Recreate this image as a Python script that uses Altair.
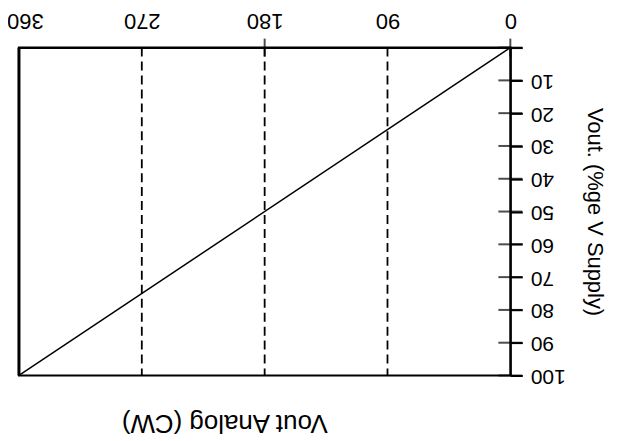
import altair as alt
import pandas as pd

# data
angle_deg = [0, 360]
vout_pct = [0, 100]
dashed_angles = [90, 180, 270]
border_angle = [360]
x_ticks = [0, 90, 180, 270, 360]
y_ticks = [0, 10, 20, 30, 40, 50, 60, 70, 80, 90, 100]
x_cross_ticks = [0, 180]

FONT = "Liberation Sans"

line_df = pd.DataFrame({"angle": angle_deg, "vout": vout_pct})
dash_df = pd.DataFrame({"angle": dashed_angles})
border_df = pd.DataFrame({"angle": border_angle})
ytick_df = pd.DataFrame({"vout": y_ticks, "angle": [0] * len(y_ticks)})
xtick_df = pd.DataFrame({"angle": x_cross_ticks, "vout": [0] * len(x_cross_ticks)})

xscale = alt.Scale(domain=[0, 360], reverse=True, nice=False)
yscale = alt.Scale(domain=[0, 100], reverse=True, nice=False)

xaxis = alt.Axis(orient="top", values=x_ticks, labelAngle=180, labelFontSize=22,
                 labelFont=FONT, labelColor="black", ticks=False, grid=False,
                 domainColor="black", domainWidth=2, labelPadding=17,
                 labelFlush=False, labelOverlap=False,
                 labelOffset={"expr": "datum.value == 360 ? 6 : 0"}, title=None)
yaxis = alt.Axis(orient="right", values=y_ticks, labelAngle=180, labelFontSize=21,
                 labelFont=FONT, labelColor="black", tickSize=12, tickColor="black",
                 tickWidth=2, grid=False, domainColor="black", domainWidth=2,
                 labelPadding=8, labelOverlap=False, labelFlush=False,
                 labelExpr="datum.value == 0 ? '' : datum.label",
                 title="Vout. (%ge V Supply)", titleAngle=90, titleFont=FONT,
                 titleFontSize=22, titleFontWeight="normal", titleColor="black",
                 titlePadding=17)

X = alt.X("angle:Q", scale=xscale, axis=xaxis)
Y = alt.Y("vout:Q", scale=yscale, axis=yaxis)

line = alt.Chart(line_df).mark_line(color="black", strokeWidth=1.5).encode(x=X, y=Y)

dashes = alt.Chart(dash_df).mark_rule(color="black", strokeWidth=1.8, strokeDash=[9, 5]).encode(x=X)

border = alt.Chart(border_df).mark_rule(color="black", strokeWidth=3).encode(x=X)

yticks_in = alt.Chart(ytick_df).mark_tick(color="black", thickness=2, size=24, orient="horizontal").encode(x=X, y=Y)

xticks_cross = alt.Chart(xtick_df).mark_tick(color="black", thickness=2, size=18, orient="vertical").encode(x=X, y=Y)

chart = alt.layer(line, dashes, border, yticks_in, xticks_cross).properties(
    width=493,
    height=329,
    autosize=alt.AutoSizeParams(type="none"),
    padding={"left": 11, "top": 39, "right": 100, "bottom": 64},
    title=alt.TitleParams("Vout Analog (CW)", orient="bottom", angle=180, fontSize=26,
                          font=FONT, fontWeight="normal", color="black", dx=40, offset=50),
).configure(background="white").configure_view(stroke="black", strokeWidth=2).configure_axis(
    labelOverlap=False
)

chart.save("out.html", embed_options={"renderer": "svg", "actions": False})
